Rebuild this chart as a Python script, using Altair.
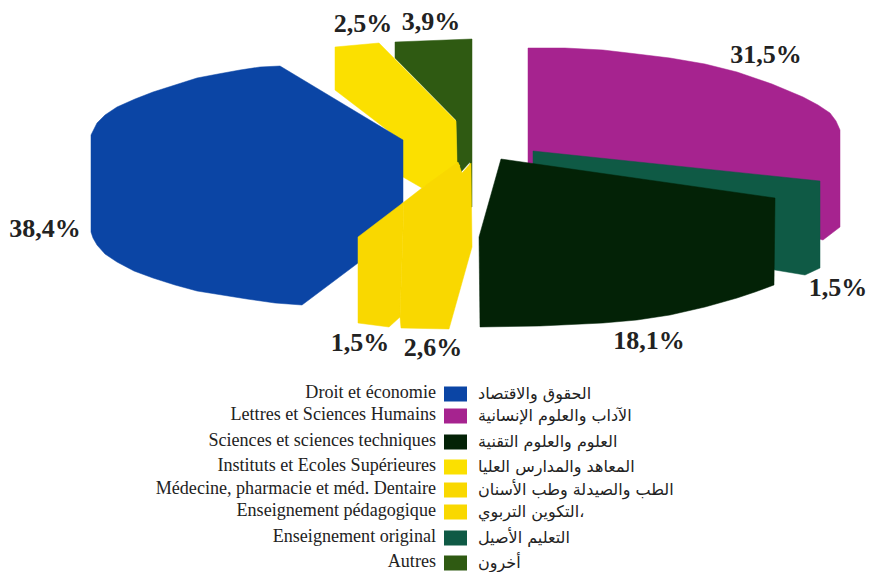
import altair as alt
import pandas as pd

# Category names, shares and colours
fr_labels = ["Droit et économie", "Lettres et Sciences Humains", "Sciences et sciences techniques",
             "Instituts et Ecoles Supérieures", "Médecine, pharmacie et méd. Dentaire",
             "Enseignement pédagogique", "Enseignement original", "Autres"]
ar_labels = ["الحقوق والاقتصاد", "الآداب والعلوم الإنسانية", "العلوم والعلوم التقنية",
             "المعاهد والمدارس العليا", "الطب والصيدلة وطب الأسنان",
             "التكوين التربوي،", "التعليم الأصيل", "أخرون"]
colors = ["#0B45A5", "#A6238F", "#032206", "#FBE000", "#F9D800", "#F9D800", "#0F5A45", "#2F5A12"]
legend_y = [394, 416, 442, 467, 490, 512, 538, 563]

share_text = ["38,4%", "31,5%", "18,1%", "2,5%", "2,6%", "1,5%", "1,5%", "3,9%"]
share_x = [45, 766, 649, 363, 433, 360, 838, 431]
share_y = [229, 55, 341, 24, 348, 343, 288, 22]

# Slice outlines
droit_x = [280, 403, 403, 358, 302, 275, 247, 222, 197, 175, 153, 134, 117, 105, 97, 93, 91,
           91, 97, 105, 117, 135, 153, 175, 197, 218, 240, 260]
droit_y = [66, 140, 202, 263, 305, 303, 299, 295, 291, 285, 278, 271, 262, 254, 245, 238, 232,
           135, 123, 115, 107, 99, 92, 85, 78, 74, 70, 67]
lettres_x = [528, 565, 603, 637, 670, 705, 737, 772, 803, 818, 830, 836, 840, 840, 823, 528]
lettres_y = [48, 48, 50, 54, 58, 64, 72, 84, 97, 105, 113, 121, 130, 227, 240, 163]
sciences_x = [501, 775, 774, 755, 737, 705, 670, 637, 603, 540, 480, 479]
sciences_y = [159, 198, 285, 292, 298, 307, 315, 320, 323, 326, 327, 237]
instituts_x = [335, 379, 456, 457, 460, 422, 403, 403, 335]
instituts_y = [47, 43, 121, 162, 166, 188, 177, 142, 90]
medecine_x = [401, 449, 472, 471, 462, 458, 422, 404, 400]
medecine_y = [328, 329, 247, 163, 173, 162, 188, 202, 317]
pedago_x = [358, 358, 389, 400, 404]
pedago_y = [237, 323, 327, 317, 202]
original_x = [533, 820, 820, 805, 775, 533]
original_y = [151, 181, 268, 275, 270, 190]
autres_x = [395, 472, 472, 470, 470, 461, 457, 456, 395]
autres_y = [42, 39, 207, 207, 162, 172, 165, 120, 58]

x_scale = alt.Scale(domain=[8, 868], nice=False, zero=False)
y_scale = alt.Scale(domain=[8, 572], nice=False, zero=False, reverse=True)
X = alt.X("x:Q", axis=None, scale=x_scale)
Y = alt.Y("y:Q", axis=None, scale=y_scale)


def slice_layer(xs, ys, color):
    df = pd.DataFrame({"x": xs + xs[:1], "y": ys + ys[:1], "i": range(len(xs) + 1)})
    return alt.Chart(df).mark_line(fill=color, stroke=color, strokeWidth=0.5, interpolate="linear").encode(
        x=X, y=Y, order=alt.Order("i:Q"))


layers = [
    slice_layer(lettres_x, lettres_y, colors[1]),
    slice_layer(original_x, original_y, colors[6]),
    slice_layer(sciences_x, sciences_y, colors[2]),
    slice_layer(autres_x, autres_y, colors[7]),
    slice_layer(instituts_x, instituts_y, colors[3]),
    slice_layer(droit_x, droit_y, colors[0]),
    slice_layer(pedago_x, pedago_y, colors[5]),
    slice_layer(medecine_x, medecine_y, colors[4]),
]

shares = pd.DataFrame({"x": share_x, "y": share_y, "t": share_text})
layers.append(alt.Chart(shares).mark_text(font="Liberation Serif", fontWeight="bold", fontSize=26,
                                          color="#222222", align="center", baseline="middle")
              .encode(x=X, y=Y, text="t:N"))

legend = pd.DataFrame({"fr": fr_labels, "ar": ar_labels, "c": colors, "y": legend_y})
legend["x_swatch"] = 455.5
legend["x_fr"] = 436
legend["x_ar"] = 478
layers.append(alt.Chart(legend).mark_rect(width=23, height=15).encode(
    x=alt.X("x_swatch:Q", axis=None, scale=x_scale), y=Y,
    fill=alt.Fill("c:N", scale=None)))
layers.append(alt.Chart(legend).mark_text(font="Liberation Serif", fontSize=18.1, color="#222222",
                                          align="right", baseline="middle", dy=-1).encode(
    x=alt.X("x_fr:Q", axis=None, scale=x_scale), y=Y, text="fr:N"))
layers.append(alt.Chart(legend).mark_text(font="DejaVu Sans", fontSize=16, color="#222222",
                                          align="left", baseline="middle").encode(
    x=alt.X("x_ar:Q", axis=None, scale=x_scale), y=Y, text="ar:N"))

chart = alt.layer(*layers).properties(
    width=860, height=564, padding=0, background="white",
    autosize=alt.AutoSizeParams(type="none")
).configure_view(stroke=None)

chart.save("out.html", embed_options={"renderer": "svg", "actions": False})
